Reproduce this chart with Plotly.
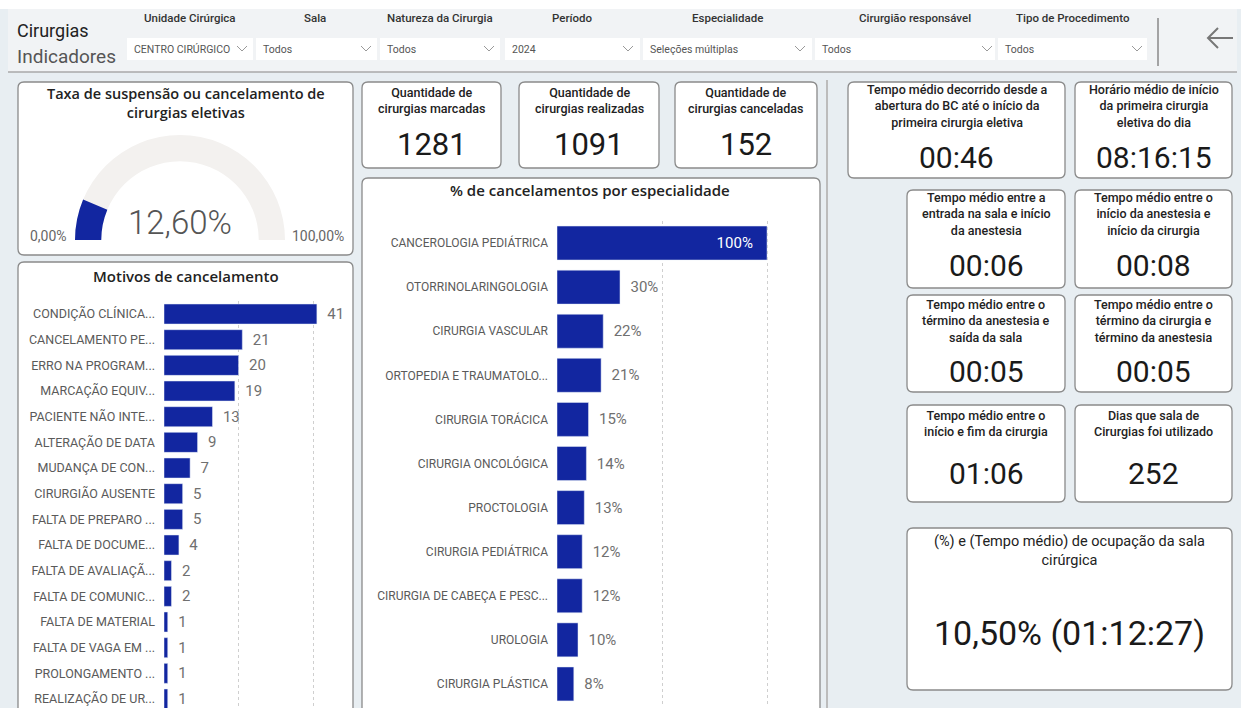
import plotly.graph_objects as go

W, H = 1241, 708

# ---------------- data ----------------
filter_labels = ["Unidade Cirúrgica", "Sala", "Natureza da Cirurgia", "Período",
                 "Especialidade", "Cirurgião responsável", "Tipo de Procedimento"]
filter_values = ["CENTRO CIRÚRGICO", "Todos", "Todos", "2024",
                 "Seleções múltiplas", "Todos", "Todos"]

taxa_cancelamento = 12.60

qtd_titles = ["Quantidade de<br>cirurgias marcadas",
              "Quantidade de<br>cirurgias realizadas",
              "Quantidade de<br>cirurgias canceladas"]
qtd_values = ["1281", "1091", "152"]

motivos = ["CONDIÇÃO CLÍNICA...", "CANCELAMENTO PE...", "ERRO NA PROGRAM...",
           "MARCAÇÃO EQUIV...", "PACIENTE NÃO INTE...", "ALTERAÇÃO DE DATA",
           "MUDANÇA DE CON...", "CIRURGIÃO AUSENTE", "FALTA DE PREPARO ...",
           "FALTA DE DOCUME...", "FALTA DE AVALIAÇÃ...", "FALTA DE COMUNIC...",
           "FALTA DE MATERIAL", "FALTA DE VAGA EM ...", "PROLONGAMENTO ...",
           "REALIZAÇÃO DE UR..."]
motivos_qtd = [41, 21, 20, 19, 13, 9, 7, 5, 5, 4, 2, 2, 1, 1, 1, 1]

especialidades = ["CANCEROLOGIA PEDIÁTRICA", "OTORRINOLARINGOLOGIA", "CIRURGIA VASCULAR",
                  "ORTOPEDIA E TRAUMATOLO...", "CIRURGIA TORÁCICA", "CIRURGIA ONCOLÓGICA",
                  "PROCTOLOGIA", "CIRURGIA PEDIÁTRICA", "CIRURGIA DE CABEÇA E PESC...",
                  "UROLOGIA", "CIRURGIA PLÁSTICA"]
especialidades_pct = [100, 30, 22, 21, 15, 14, 13, 12, 12, 10, 8]

tempo_titles = ["Tempo médio decorrido desde a<br>abertura do BC até o início da<br>primeira cirurgia eletiva",
                "Horário médio de início<br>da primeira cirurgia<br>eletiva do dia",
                "Tempo médio entre a<br>entrada na sala e início<br>da anestesia",
                "Tempo médio entre o<br>início da anestesia e<br>início da cirurgia",
                "Tempo médio entre o<br>término da anestesia e<br>saída da sala",
                "Tempo médio entre o<br>término da cirurgia e<br>término da anestesia",
                "Tempo médio entre o<br>início e fim da cirurgia",
                "Dias que sala de<br>Cirurgias foi utilizado"]
tempo_values = ["00:46", "08:16:15", "00:06", "00:08", "00:05", "00:05", "01:06", "252"]

ocupacao_title = "(%) e (Tempo médio) de ocupação da sala<br>cirúrgica"
ocupacao_value = "10,50% (01:12:27)"

# ---------------- helpers ----------------
NAVY = "#1226A0"
FONT = "Roboto"
NB = "\u00a0"


def X(x):
    return x / W


def Y(y):
    return 1 - y / H


shapes = []
annotations = []


def rect(x0, y0, x1, y1, fill, line=None, lw=0):
    shapes.append(dict(type="rect", xref="paper", yref="paper", x0=X(x0), x1=X(x1),
                       y0=Y(y1), y1=Y(y0), fillcolor=fill,
                       line=dict(color=line or fill, width=lw), layer="below"))


def rrect(x0, y0, x1, y1, r=6, fill="white", line="#8a8a8a", lw=1.3):
    p = (f"M {X(x0 + r)},{Y(y0)} L {X(x1 - r)},{Y(y0)} Q {X(x1)},{Y(y0)} {X(x1)},{Y(y0 + r)} "
         f"L {X(x1)},{Y(y1 - r)} Q {X(x1)},{Y(y1)} {X(x1 - r)},{Y(y1)} "
         f"L {X(x0 + r)},{Y(y1)} Q {X(x0)},{Y(y1)} {X(x0)},{Y(y1 - r)} "
         f"L {X(x0)},{Y(y0 + r)} Q {X(x0)},{Y(y0)} {X(x0 + r)},{Y(y0)} Z")
    shapes.append(dict(type="path", xref="paper", yref="paper", path=p, fillcolor=fill,
                       line=dict(color=line, width=lw), layer="below"))


def line(pts, color="#999", width=1):
    p = "M " + " L ".join(f"{X(a)},{Y(b)}" for a, b in pts)
    shapes.append(dict(type="path", xref="paper", yref="paper", path=p,
                       line=dict(color=color, width=width), layer="below"))


def txt(x, y, text, size=12, color="#222", weight="normal", anchor="center", family=FONT):
    annotations.append(dict(x=X(x), y=Y(y), xref="paper", yref="paper", text=text,
                            showarrow=False, xanchor=anchor, yanchor="middle",
                            font=dict(size=size, color=color, family=family, weight=weight)))


# ---------------- background ----------------
rect(0, 0, W, 9, "white")
rect(8, 9, 1237, 72, "#f1f3f5")
line([(8, 72), (1237, 72)], "#a8a8a8", 1.5)

txt(15, 31, "Cirurgias", 18, "#222", anchor="left")
txt(15, 56, "Indicadores", 19, "#555", anchor="left")

boxes = [(127, 253), (256, 377), (380, 500), (505, 640), (643, 812), (815, 995), (998, 1147)]
label_cx = [190, 315, 440, 572, 727, 915, 1073]
chev_x = [242, 366, 489, 628, 800, 987, 1137]
for (bx0, bx1), lab, cx, val, chx in zip(boxes, filter_labels, label_cx, filter_values, chev_x):
    rect(bx0, 38, bx1, 60, "white")
    txt(cx, 18, lab, 11.5, "#333", weight=500)
    txt(bx0 + 5, 49, val, 10.5, "#555", anchor="left")
    line([(chx - 5, 46), (chx, 51), (chx + 5, 46)], "#999", 1)

line([(1158, 18), (1158, 66)], "#888", 1.5)
line([(1208, 38), (1233, 38)], "#777", 2)
line([(1218, 28), (1208, 38), (1218, 48)], "#777", 2)

line([(827, 80), (827, 708)], "#bcbcbc", 2)

# ---------------- cards ----------------
rrect(18, 82, 353, 255)
txt(186, 103, "Taxa de suspensão ou cancelamento de<br>cirurgias eletivas", 14.5, "#222",
    weight=600, family="Open Sans")
txt(48, 236, "0,00%", 14, "#666")
txt(318, 236, "100,00%", 14, "#666")
txt(180, 222, f"{taxa_cancelamento:.2f}%".replace(".", ","), 33, "#555", weight=300)

rrect(18, 262, 353, 730)
txt(186, 276, "Motivos de cancelamento", 15, "#222", weight=600, family="Open Sans")

qtd_boxes = [(362, 501), (519, 659), (675, 817)]
for (bx0, bx1), t, v in zip(qtd_boxes, qtd_titles, qtd_values):
    rrect(bx0, 82, bx1, 168)
    cx = (bx0 + bx1) / 2
    txt(cx, 100, t, 12.5, "#222", weight=500)
    txt(cx, 145, v, 31, "#1a1a1a")

rrect(362, 178, 820, 730)
txt(590, 190, "% de cancelamentos por especialidade", 15, "#222", weight=600, family="Open Sans")

tempo_boxes = [(848, 82, 1065, 178, 106, 157), (1075, 82, 1232, 178, 106, 157),
               (907, 190, 1065, 288, 214, 265), (1075, 190, 1232, 288, 214, 265),
               (907, 295, 1065, 392, 321, 371), (1075, 295, 1232, 392, 321, 371),
               (907, 405, 1065, 502, 423, 473), (1075, 405, 1232, 502, 423, 473)]
for (bx0, by0, bx1, by1, ty, vy), t, v in zip(tempo_boxes, tempo_titles, tempo_values):
    rrect(bx0, by0, bx1, by1)
    cx = (bx0 + bx1) / 2
    txt(cx, ty, t, 12.5, "#222", weight=500)
    txt(cx, vy, v, 30, "#1a1a1a")

rrect(907, 528, 1232, 690)
txt(1069, 551, ocupacao_title, 14.5, "#222")
txt(1069, 633, ocupacao_value, 34, "#1a1a1a")

# ---------------- traces ----------------
fig = go.Figure()

fig.add_trace(go.Indicator(
    mode="gauge", value=taxa_cancelamento,
    domain=dict(x=[X(75), X(285)], y=[Y(240), Y(135)]),
    gauge=dict(shape="angular",
               axis=dict(range=[0, 100], visible=False),
               bar=dict(color=NAVY, thickness=1),
               bgcolor="#f3f1ef", borderwidth=0)))

fig.add_trace(go.Bar(
    y=motivos, x=motivos_qtd, orientation="h", marker=dict(color=NAVY),
    width=0.78, text=[NB * 2 + str(v) for v in motivos_qtd], textposition="outside",
    textfont=dict(size=15, color="#707070", family=FONT), cliponaxis=False,
    xaxis="x", yaxis="y", hoverinfo="skip"))

n_esp = len(especialidades_pct)
fig.add_trace(go.Bar(
    y=especialidades, x=especialidades_pct, orientation="h", marker=dict(color=NAVY),
    width=0.77,
    text=[f"{v}%" + NB * 3 if i == 0 else NB * 2 + f"{v}%" for i, v in enumerate(especialidades_pct)],
    textposition=["inside"] + ["outside"] * (n_esp - 1),
    insidetextanchor="end",
    textfont=dict(size=15, family=FONT, color=["white"] + ["#707070"] * (n_esp - 1)),
    cliponaxis=False, xaxis="x2", yaxis="y2", hoverinfo="skip"))

axis_common = dict(showline=False, zeroline=False, ticks="")
fig.update_layout(
    width=W, height=H, margin=dict(l=0, r=0, t=0, b=0),
    paper_bgcolor="#e8eef2", plot_bgcolor="rgba(0,0,0,0)",
    showlegend=False, separators=",.",
    shapes=shapes, annotations=annotations,
    xaxis=dict(domain=[X(164), X(340)], range=[0, 47.2], dtick=20, showgrid=True,
               gridcolor="#cfcfcf", griddash="dot", showticklabels=False, anchor="y",
               **axis_common),
    yaxis=dict(domain=[0, Y(301.2)], range=[15.35, -0.5], type="category",
               categoryorder="array", categoryarray=motivos, showgrid=False, anchor="x",
               tickfont=dict(size=12.5, color="#5a5a5a", family=FONT), ticklabelstandoff=8,
               **axis_common),
    xaxis2=dict(domain=[X(557), X(800)], range=[0, 115.7], dtick=50, showgrid=True,
                gridcolor="#cfcfcf", griddash="dot", showticklabels=False, anchor="y2",
                **axis_common),
    yaxis2=dict(domain=[Y(706), Y(221)], range=[10.5, -0.5], type="category",
                categoryorder="array", categoryarray=especialidades, showgrid=False,
                anchor="x2", tickfont=dict(size=12, color="#5a5a5a", family=FONT),
                ticklabelstandoff=8, **axis_common),
    bargap=0.2,
)

fig.write_html("out.html", config={"displayModeBar": False},
               post_script="document.body.style.margin='0';document.body.style.overflow='hidden';")
